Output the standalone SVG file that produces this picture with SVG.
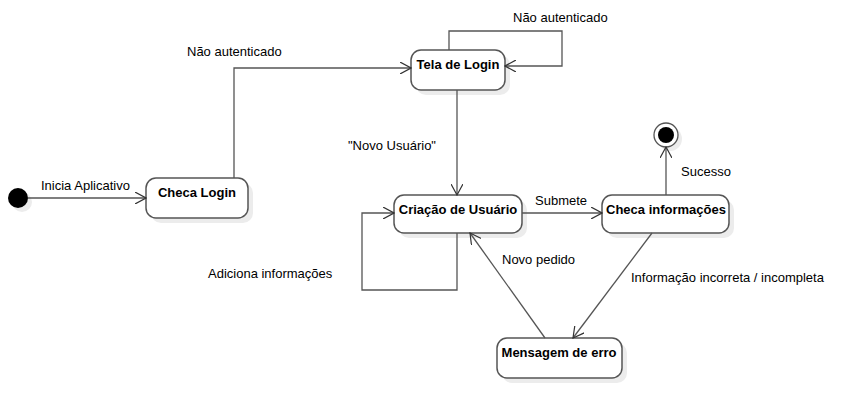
<svg xmlns="http://www.w3.org/2000/svg" width="863" height="418" viewBox="0 0 863 418">
<style>
.node{fill:#fff;stroke:#555;stroke-width:1.5}
.shadow{fill:#ececec;stroke:none}
.name{font-family:"Liberation Sans",Arial,sans-serif;font-size:13px;font-weight:bold;fill:#000;text-anchor:middle}
.lbl{font-family:"Liberation Sans",Arial,sans-serif;font-size:13px;fill:#000}
.edge{fill:none;stroke:#555;stroke-width:1.3;marker-end:url(#arr)}
</style>
<defs>
<marker id="arr" viewBox="0 0 12 12" refX="11" refY="6" markerWidth="12" markerHeight="12" markerUnits="userSpaceOnUse" orient="auto">
<path d="M0,0 L11,6 L0,12" fill="none" stroke="#333" stroke-width="1.2"/>
</marker>
</defs>
<rect width="863" height="418" fill="#fff"/>
<g id="start">
<circle cx="22" cy="202" r="10" fill="#ececec"/>
<circle cx="18" cy="198" r="10" fill="#000"/>
</g>
<g id="checa-login">
<rect class="shadow" x="151" y="183" width="102" height="40" rx="10"/>
<rect class="node" x="146" y="178" width="102" height="40" rx="10"/>
<text class="name" x="197" y="197">Checa Login</text>
</g>
<g id="tela-login">
<rect class="shadow" x="416" y="55" width="94" height="40" rx="10"/>
<rect class="node" x="411" y="50" width="94" height="40" rx="10"/>
<text class="name" x="458" y="69">Tela de Login</text>
</g>
<g id="criacao-usuario">
<rect class="shadow" x="399" y="200" width="128" height="38" rx="10"/>
<rect class="node" x="394" y="195" width="128" height="38" rx="10"/>
<text class="name" x="458" y="214">Criação de Usuário</text>
</g>
<g id="checa-informacoes">
<rect class="shadow" x="607" y="200" width="127" height="38" rx="10"/>
<rect class="node" x="602" y="195" width="127" height="38" rx="10"/>
<text class="name" x="666" y="214">Checa informações</text>
</g>
<g id="mensagem-erro">
<rect class="shadow" x="502" y="343" width="125" height="40" rx="10"/>
<rect class="node" x="497" y="338" width="125" height="40" rx="10"/>
<text class="name" x="559" y="357">Mensagem de erro</text>
</g>
<g id="final">
<circle cx="670" cy="139" r="12" fill="#ececec"/>
<circle cx="666" cy="135" r="12" fill="#fff" stroke="#555" stroke-width="1.3"/>
<circle cx="666" cy="135" r="8" fill="#000"/>
</g>
<g id="connectors">
<path class="edge" d="M28,198 L146,198"/>
<text class="lbl" x="41" y="190">Inicia Aplicativo</text>
<path class="edge" d="M234,178 L234,68 L411,68"/>
<text class="lbl" x="187" y="56">Não autenticado</text>
<path class="edge" d="M449,50 L449,31 L562,31 L562,66 L505,66"/>
<text class="lbl" x="513" y="22">Não autenticado</text>
<path class="edge" d="M457,90 L457,195"/>
<text class="lbl" x="348" y="150">"Novo Usuário"</text>
<path class="edge" d="M457,233 L457,290 L362,290 L362,213 L394,213"/>
<text class="lbl" x="208" y="278">Adiciona informações</text>
<path class="edge" d="M522,213 L602,213"/>
<text class="lbl" x="535" y="205">Submete</text>
<path class="edge" d="M666,195 L666,147"/>
<text class="lbl" x="681" y="176">Sucesso</text>
<path class="edge" d="M652,233 L573,338"/>
<text class="lbl" x="631" y="282">Informação incorreta / incompleta</text>
<path class="edge" d="M545,338 L470,233"/>
<text class="lbl" x="502" y="264">Novo pedido</text>
</g>
</svg>
